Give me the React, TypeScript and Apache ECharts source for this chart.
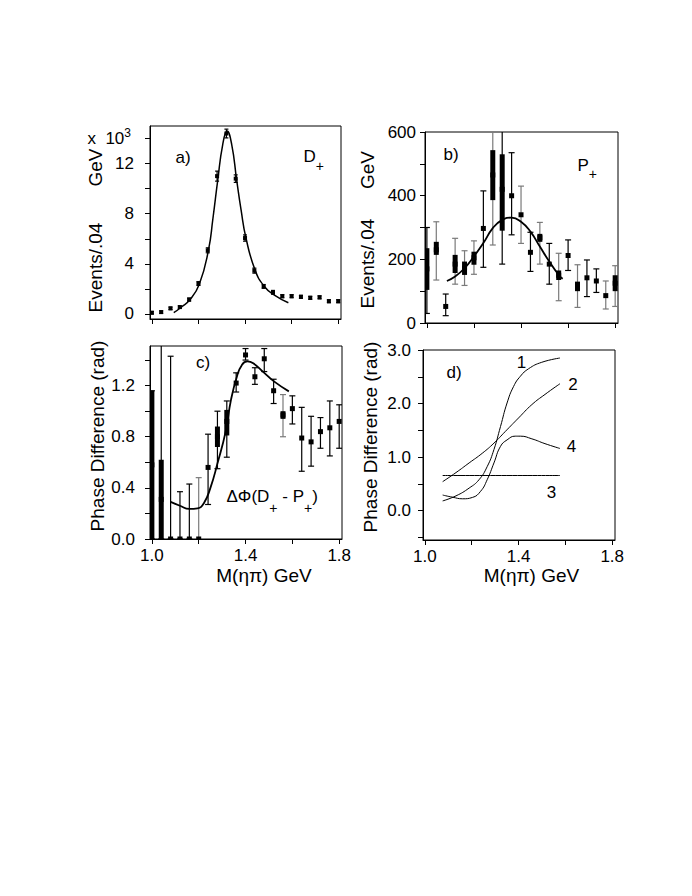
import React, { useEffect, useRef } from 'react';
import * as echarts from 'echarts';

const FONT = "'Liberation Sans', Arial, Helvetica, sans-serif";

// Mass bins, M(eta pi) in GeV
const massBins = [1.00, 1.04, 1.08, 1.12, 1.16, 1.20, 1.24, 1.28, 1.32, 1.36, 1.40, 1.44, 1.48, 1.52, 1.56, 1.60, 1.64, 1.68, 1.72, 1.76, 1.80];

// Tick positions and labels
const xTickValues = [1.0, 1.2, 1.4, 1.6, 1.8];
const xLabelValues = [1.0, 1.4, 1.8];
const aTickValues = [0, 2, 4, 6, 8, 10, 12, 14];
const aLabelValues = [0, 4, 8, 12];
const bTickValues = [0, 100, 200, 300, 400, 500, 600];
const bLabelValues = [0, 200, 400, 600];
const cTickValues = [0, 0.2, 0.4, 0.6, 0.8, 1.0, 1.2, 1.4];
const cLabelValues = [0, 0.4, 0.8, 1.2];
const dTickValues = [-0.5, 0, 0.5, 1.0, 1.5, 2.0, 2.5, 3.0];
const dLabelValues = [0, 1, 2, 3];

// a) D+ wave, events/.04 GeV (x10^3)
const dEvents = [0.10, 0.15, 0.45, 0.55, 1.15, 2.43, 5.08, 11.0, 14.4, 10.8, 6.06, 3.46, 2.2, 1.73, 1.42, 1.42, 1.37, 1.29, 1.33, 1.02, 1.02];
const dErr = [0.1, 0.1, 0.1, 0.1, 0.12, 0.15, 0.2, 0.4, 0.35, 0.3, 0.25, 0.2, 0.15, 0.15, 0.12, 0.12, 0.12, 0.12, 0.12, 0.12, 0.12];
const dFitMass = [1.094, 1.126, 1.164, 1.204, 1.243, 1.262, 1.283, 1.304, 1.323, 1.343, 1.364, 1.383, 1.404, 1.444, 1.483, 1.526, 1.586];
const dFitEvents = [0.1, 0.54, 1.15, 2.4, 5.1, 7.6, 10.7, 13.5, 14.6, 13.5, 10.7, 8.3, 6.06, 3.46, 2.2, 1.5, 0.9];

// b) P+ wave, events/.04 GeV
const pEvents = [170, 230, 52, 185, 172, 205, 297, 465, 420, 400, 340, 222, 268, 185, 150, 212, 115, 142, 132, 86, 125];
const pErrLo = [30, 135, 23, 122, 118, 153, 175, 245, 185, 277, 250, 162, 185, 122, 70, 165, 49, 83, 96, 44, 52];
const pErrHi = [300, 318, 91, 266, 227, 258, 415, 700, 700, 535, 430, 285, 316, 250, 219, 261, 183, 198, 170, 132, 180];
const pBandLo = [104, 214, -999, 157, 151, 183, -999, 386, 290, -999, -999, -999, 255, -999, 135, -999, 100, -999, -999, -999, 100];
const pBandHi = [235, 255, -999, 214, 193, 224, -999, 543, 530, -999, -999, -999, 280, -999, 165, -999, 130, -999, -999, -999, 150];
const pGray = [0, 1, 0, 1, 1, 1, 0, 1, 0, 0, 1, 0, 1, 0, 1, 0, 1, 0, 0, 1, 1];
const pFitMass = [1.085, 1.12, 1.16, 1.20, 1.24, 1.28, 1.32, 1.36, 1.40, 1.44, 1.48, 1.52, 1.56, 1.577];
const pFitEvents = [132, 146, 172, 209, 251, 298, 324, 331, 318, 287, 240, 193, 151, 139];

// c) Phase difference D+ - P+ (rad)
const phaseDiff = [0.58, 0.31, 0, 0, 0, 0, 0.56, 0.80, 0.92, 1.22, 1.44, 1.27, 1.41, 1.16, 0.97, 1.02, 0.79, 0.76, 0.84, 0.87, 0.92];
const phaseErrLo = [0, 0, 0, 0, 0, 0, 0.27, 0.55, 0.64, 1.15, 1.40, 1.21, 1.31, 1.06, 0.80, 0.90, 0.53, 0.57, 0.71, 0.65, 0.71];
const phaseErrHi = [1.16, 1.60, 1.43, 0.37, 0.43, 0.48, 0.82, 1.00, 1.08, 1.30, 1.49, 1.34, 1.49, 1.25, 1.13, 1.12, 1.03, 0.96, 0.95, 1.08, 1.05];
const phaseBandLo = [0, 0, -999, -999, -999, -999, -999, 0.72, 0.81, -999, -999, -999, -999, -999, 0.94, -999, -999, -999, -999, -999, -999];
const phaseBandHi = [1.16, 0.62, -999, -999, -999, -999, -999, 0.88, 1.01, -999, -999, -999, -999, -999, 1.00, -999, -999, -999, -999, -999, -999];
const phaseGray = [0, 0, 0, 0, 0, 1, 0, 0, 0, 0, 0, 0, 0, 0, 1, 0, 0, 0, 0, 0, 0];
const phaseFitMass = [1.08, 1.12, 1.16, 1.195, 1.222, 1.25, 1.28, 1.315, 1.338, 1.363, 1.384, 1.408, 1.433, 1.48, 1.52, 1.585];
const phaseFitValue = [0.29, 0.26, 0.235, 0.24, 0.28, 0.40, 0.59, 0.84, 1.09, 1.27, 1.36, 1.39, 1.375, 1.30, 1.235, 1.155];

// d) Model phase differences (rad)
const curve1Mass = [1.076, 1.133, 1.189, 1.231, 1.266, 1.295, 1.323, 1.351, 1.379, 1.408, 1.443, 1.499, 1.577];
const curve1Value = [0.18, 0.275, 0.42, 0.575, 0.82, 1.14, 1.57, 2.01, 2.32, 2.51, 2.65, 2.77, 2.85];
const curve2Mass = [1.076, 1.133, 1.189, 1.245, 1.295, 1.344, 1.40, 1.457, 1.513, 1.577];
const curve2Value = [0.54, 0.71, 0.89, 1.07, 1.26, 1.48, 1.73, 1.98, 2.17, 2.37];
const curve3Mass = [1.076, 1.577];
const curve3Value = [0.655, 0.655];
const curve4Mass = [1.076, 1.118, 1.161, 1.203, 1.238, 1.266, 1.295, 1.323, 1.351, 1.386, 1.408, 1.457, 1.513, 1.577];
const curve4Value = [0.29, 0.25, 0.22, 0.245, 0.36, 0.575, 0.89, 1.20, 1.32, 1.39, 1.39, 1.34, 1.25, 1.16];

const X_MIN = 0.992;
const X_MAX = 1.812;

const pairs = (xs: number[], ys: number[]) => xs.map((x, i) => [x, ys[i]]);

const xAxisFor = (i: number, labels: boolean) => ({
  type: 'value',
  gridIndex: i,
  min: X_MIN,
  max: X_MAX,
  axisLine: { show: true, onZero: false, lineStyle: { color: '#000', width: 1 } },
  axisTick: { show: true, inside: false, length: 5, customValues: xTickValues, lineStyle: { color: '#000', width: 1 } },
  axisLabel: {
    show: labels,
    customValues: xLabelValues,
    formatter: (v: number) => v.toFixed(1),
    color: '#000',
    fontSize: 17,
    fontFamily: FONT,
    margin: 8,
  },
  splitLine: { show: false },
});

const yAxisFor = (
  i: number,
  min: number,
  max: number,
  ticks: number[],
  labels: number[],
  fmt: (v: number) => string,
  margin: number
) => ({
  type: 'value',
  gridIndex: i,
  min,
  max,
  axisLine: { show: true, onZero: false, lineStyle: { color: '#000', width: 1 } },
  axisTick: { show: true, inside: false, length: 5, customValues: ticks, lineStyle: { color: '#000', width: 1 } },
  axisLabel: { customValues: labels, formatter: fmt, color: '#000', fontSize: 17, fontFamily: FONT, margin },
  splitLine: { show: false },
});

type EbOpts = { cap: number; band: number; mk: number };

const errorSeries = (gi: number, rows: number[][], opts: EbOpts) => ({
  type: 'custom',
  xAxisIndex: gi,
  yAxisIndex: gi,
  clip: true,
  encode: { x: 0, y: 1 },
  data: rows,
  renderItem: (_params: any, api: any) => {
    const x = api.value(0);
    const y = api.value(1);
    const lo = api.value(2);
    const hi = api.value(3);
    const blo = api.value(4);
    const bhi = api.value(5);
    const gray = api.value(6);
    const c = api.coord([x, y]);
    const cl = api.coord([x, lo]);
    const ch = api.coord([x, hi]);
    const col = gray ? '#7a7a7a' : '#000';
    const kids: any[] = [
      { type: 'line', shape: { x1: c[0], y1: cl[1], x2: c[0], y2: ch[1] }, style: { stroke: col, lineWidth: 1.2 } },
      { type: 'line', shape: { x1: c[0] - opts.cap, y1: cl[1], x2: c[0] + opts.cap, y2: cl[1] }, style: { stroke: col, lineWidth: 1.2 } },
      { type: 'line', shape: { x1: c[0] - opts.cap, y1: ch[1], x2: c[0] + opts.cap, y2: ch[1] }, style: { stroke: col, lineWidth: 1.2 } },
    ];
    if (blo > -900 && bhi > -900) {
      const bl = api.coord([x, blo]);
      const bh = api.coord([x, bhi]);
      kids.push({
        type: 'rect',
        shape: { x: c[0] - opts.band / 2, y: bh[1], width: opts.band, height: bl[1] - bh[1] },
        style: { fill: '#000' },
      });
    }
    kids.push({
      type: 'rect',
      shape: { x: c[0] - opts.mk / 2, y: c[1] - opts.mk / 2, width: opts.mk, height: opts.mk },
      style: { fill: '#000' },
    });
    return { type: 'group', children: kids };
  },
});

const fitLine = (gi: number, xs: number[], ys: number[], width: number) => ({
  type: 'line',
  xAxisIndex: gi,
  yAxisIndex: gi,
  data: pairs(xs, ys),
  smooth: 0.5,
  symbol: 'none',
  lineStyle: { color: '#000', width },
  z: 5,
});

const txt = (x: number, y: number, text: string, size: number, extra: any = {}, rot = 0) => ({
  type: 'text',
  x,
  y,
  rotation: rot,
  style: {
    text,
    fontSize: size,
    fontFamily: FONT,
    fill: '#000',
    align: 'center',
    verticalAlign: 'middle',
    ...extra,
  },
});

export default function App() {
  const ref = useRef<HTMLDivElement>(null);

  useEffect(() => {
    if (!ref.current) return;
    const chart = echarts.init(ref.current, undefined, { renderer: 'svg' });

    const aRows = massBins.map((m, i) => [m, dEvents[i], dEvents[i] - dErr[i], dEvents[i] + dErr[i], -999, -999, 0]);
    const bRows = massBins.map((m, i) => [m, pEvents[i], pErrLo[i], pErrHi[i], pBandLo[i], pBandHi[i], pGray[i]]);
    const cRows = massBins.map((m, i) => [m, phaseDiff[i], phaseErrLo[i], phaseErrHi[i], phaseBandLo[i], phaseBandHi[i], phaseGray[i]]);

    const sub = { s: { fontSize: 14, fontFamily: FONT, fill: '#000', padding: [18, 0, 0, 0], verticalAlign: 'bottom' } };
    const sub2 = { s: { fontSize: 14, fontFamily: FONT, fill: '#000', padding: [24, 0, 0, 0], verticalAlign: 'bottom' } };

    const option: any = {
      animation: false,
      backgroundColor: '#fff',
      grid: [
        { left: 150, top: 126, width: 191, height: 193, show: true, borderColor: '#000', borderWidth: 1, backgroundColor: 'transparent' },
        { left: 425, top: 132, width: 193, height: 191, show: true, borderColor: '#000', borderWidth: 1, backgroundColor: 'transparent' },
        { left: 150, top: 346, width: 192, height: 193, show: true, borderColor: '#000', borderWidth: 1, backgroundColor: 'transparent' },
        { left: 423, top: 350, width: 192, height: 190, show: true, borderColor: '#000', borderWidth: 1, backgroundColor: 'transparent' },
      ],
      xAxis: [xAxisFor(0, false), xAxisFor(1, false), xAxisFor(2, true), xAxisFor(3, true)],
      yAxis: [
        yAxisFor(0, -0.4, 15, aTickValues, aLabelValues, (v: number) => String(v), 16),
        yAxisFor(1, 0, 600, bTickValues, bLabelValues, (v: number) => String(v), 9),
        yAxisFor(2, 0, 1.51, cTickValues, cLabelValues, (v: number) => v.toFixed(1), 15),
        yAxisFor(3, -0.55, 3.0, dTickValues, dLabelValues, (v: number) => v.toFixed(1), 12),
      ],
      series: [
        errorSeries(0, aRows, { cap: 2, band: 4, mk: 4 }),
        fitLine(0, dFitMass, dFitEvents, 1.5),
        errorSeries(1, bRows, { cap: 3, band: 5, mk: 5 }),
        fitLine(1, pFitMass, pFitEvents, 1.8),
        errorSeries(2, cRows, { cap: 3, band: 5, mk: 5 }),
        fitLine(2, phaseFitMass, phaseFitValue, 1.8),
        fitLine(3, curve1Mass, curve1Value, 1),
        fitLine(3, curve2Mass, curve2Value, 1),
        fitLine(3, curve3Mass, curve3Value, 1),
        fitLine(3, curve4Mass, curve4Value, 1),
      ],
      graphic: [
        // y-axis names
        txt(95.5, 167.5, 'GeV', 19, {}, Math.PI / 2),
        txt(95.5, 267.5, 'Events/.04', 19, {}, Math.PI / 2),
        txt(367.5, 170, 'GeV', 19, {}, Math.PI / 2),
        txt(367.5, 263.5, 'Events/.04', 19, {}, Math.PI / 2),
        txt(97.5, 436, 'Phase Difference (rad)', 19, {}, Math.PI / 2),
        txt(370.5, 437, 'Phase Difference (rad)', 19, {}, Math.PI / 2),
        // x-axis names
        txt(264, 575, 'M(ηπ) GeV', 19),
        txt(531.5, 575, 'M(ηπ) GeV', 19),
        // multiplier
        txt(131, 138, 'x  10{sup|3}', 17, {
          align: 'right',
          rich: { sup: { fontSize: 12, fontFamily: FONT, fill: '#000', padding: [0, 0, 10, 0], verticalAlign: 'top' } },
        }),
        // panel labels
        txt(183, 157.5, 'a)', 17),
        txt(451, 154, 'b)', 17),
        txt(203, 362, 'c)', 17),
        txt(454, 372, 'd)', 17),
        txt(303.5, 156.5, 'D{s|+}', 17, { align: 'left', rich: sub }),
        txt(577.5, 165, 'P{s|+}', 17, { align: 'left', rich: sub }),
        txt(226.5, 496, 'ΔΦ(D{s|+} - P{s|+})', 17, { align: 'left', rich: sub2 }),
        // curve labels in d)
        txt(521.5, 362.5, '1', 17),
        txt(573, 384, '2', 17),
        txt(551.5, 492.5, '3', 17),
        txt(571.5, 446.5, '4', 17),
      ],
    };

    chart.setOption(option);
    return () => {
      chart.dispose();
    };
  }, []);

  return (
    <div
      ref={ref}
      style={{ position: 'absolute', left: 0, top: 0, width: 692, height: 896, background: '#fff' }}
    />
  );
}
